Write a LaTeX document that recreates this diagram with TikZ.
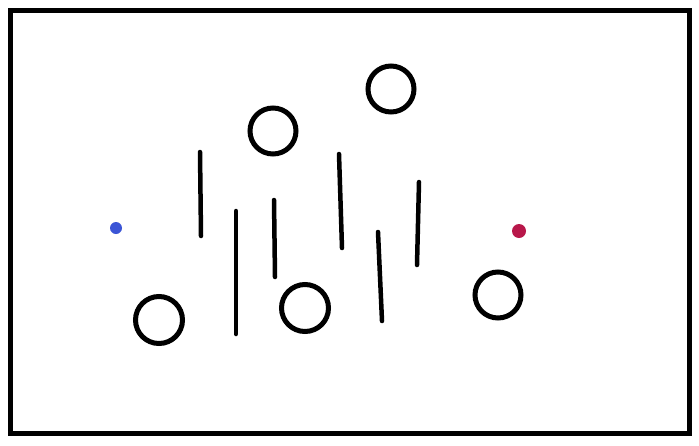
\documentclass[tikz,border=0pt]{standalone}
\usepackage{tikz}
\usetikzlibrary{positioning}
\definecolor{DotBlue}{HTML}{3B55D6}
\definecolor{DotRed}{HTML}{B8174A}

\begin{document}
\begin{tikzpicture}[x=1pt, y=-1pt, line cap=round,
   ring/.style={draw, circle, line width=5pt, minimum size=46pt, inner sep=0pt},
   dot/.style={circle, inner sep=0pt, minimum size=#1},
   bar/.style={line width=4.5pt}]
  \useasboundingbox (0,0) rectangle (699,445);
  \draw[line width=5pt, line cap=butt] (10,10.5) rectangle (689.5,433);
  % the two points
  \node[dot=12pt, fill=DotBlue] (src) at (116,228) {};
  \node[dot=14pt, fill=DotRed]  (dst) at (519,231) {};
  % rings
  \node[ring] (r1) at (273,131) {};
  \node[ring] (r2) at (391,89)  {};
  \node[ring, minimum size=47pt] (r3) at (159,320) {};
  \node[ring, minimum size=47pt] (r4) at (305,308) {};
  \node[ring] (r5) at (498,295) {};
  % bars
  \coordinate (b1t) at (200,152); \coordinate (b1b) at (201,236);
  \coordinate (b2t) at (236,211); \coordinate (b2b) at (236,334);
  \coordinate (b3t) at (274,200); \coordinate (b3b) at (275,277);
  \coordinate (b4t) at (339,154); \coordinate (b4b) at (342,248);
  \coordinate (b5t) at (378,232); \coordinate (b5b) at (382,321);
  \coordinate (b6t) at (419,182); \coordinate (b6b) at (417,265);
  \foreach \i in {1,...,6}
    \draw[bar] (b\i t) -- (b\i b);
\end{tikzpicture}
\end{document}
